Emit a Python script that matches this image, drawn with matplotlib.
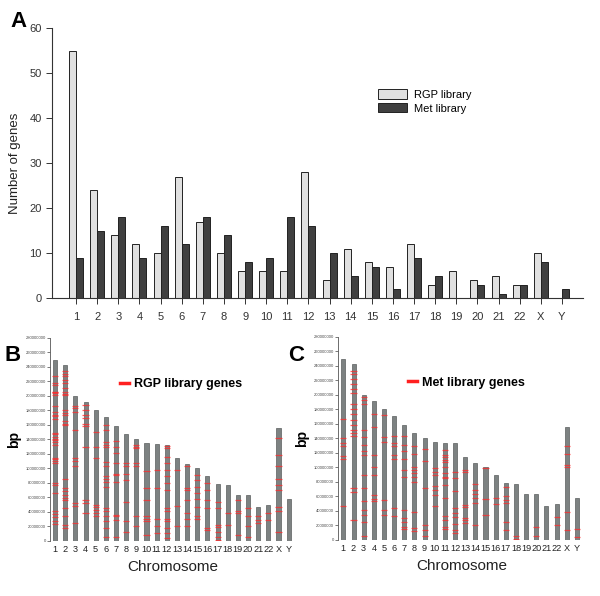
import numpy as np
import matplotlib
matplotlib.use('Agg')
import matplotlib.pyplot as plt
from matplotlib.lines import Line2D

plt.rcParams['font.family'] = ['Liberation Sans', 'DejaVu Sans']

# panel A data
chroms = ['1', '2', '3', '4', '5', '6', '7', '8', '9', '10', '11', '12',
          '13', '14', '15', '16', '17', '18', '19', '20', '21', '22', 'X', 'Y']
rgp_counts = [55, 24, 14, 12, 10, 27, 17, 10, 6, 6, 6, 28,
              4, 11, 8, 7, 12, 3, 6, 4, 5, 3, 10, 0]
met_counts = [9, 15, 18, 9, 16, 12, 18, 14, 8, 9, 18, 16,
              10, 5, 7, 2, 9, 5, 0, 3, 1, 3, 8, 2]

# chromosome lengths (Mb), as drawn
chrom_len = [249, 243, 200, 192, 181, 171, 159, 147, 141, 135, 134, 133,
             115, 106, 101, 89, 79, 77, 64, 63, 47, 50, 156, 58]

# gene positions (Mb) per chromosome, panel B
rgp_pos = [
    [228, 218, 215, 206, 205, 204, 201, 186, 178, 174, 172, 168, 149, 148, 144,
     141, 139, 136, 132, 115, 113, 111, 108, 80, 77, 66, 41, 37, 33, 28, 24],
    [234, 231, 227, 222, 218, 211, 205, 203, 201, 181, 177, 174, 165, 162, 160,
     86, 73, 69, 63, 59, 57, 46, 34, 22, 18],
    [186, 183, 178, 153, 114, 110, 103, 53, 48, 25],
    [188, 181, 174, 169, 162, 158, 130, 57, 53, 38],
    [151, 130, 114, 50, 47, 43, 38, 34],
    [160, 153, 137, 132, 130, 109, 103, 89, 86, 82, 75, 45, 41, 34, 27, 18, 6],
    [138, 130, 121, 107, 93, 91, 82, 36, 34, 29, 6],
    [107, 103, 93, 84, 54, 27, 13],
    [132, 130, 128, 107, 103, 34, 20],
    [96, 73, 57, 34, 30, 27, 8],
    [98, 73, 31, 20, 11],
    [131, 128, 116, 107, 98, 89, 80, 70, 45, 41, 31, 27, 18, 11, 4],
    [98, 48, 21],
    [103, 73, 70, 57, 38, 30, 21],
    [91, 84, 75, 66, 58, 47, 35, 30],
    [80, 70, 57, 45, 18, 15],
    [54, 45, 22, 19, 13, 6, 1],
    [38, 22],
    [57, 41, 38, 8],
    [46, 34, 21, 6],
    [34, 29, 25],
    [38, 29],
    [142, 119, 103, 86, 77, 71, 47, 42, 13],
    [],
]

# gene positions (Mb) per chromosome, panel C
met_pos = [
    [166, 141, 133, 129, 116, 112, 47],
    [233, 228, 222, 215, 208, 202, 187, 180, 174, 165, 158, 152, 147, 143, 72, 66, 28],
    [197, 193, 187, 151, 142, 131, 122, 117, 90, 71, 54, 41, 34, 25, 5],
    [174, 156, 117, 101, 90, 62, 57, 54],
    [172, 142, 135, 55, 41, 35],
    [143, 134, 129, 117, 112, 44, 33],
    [143, 131, 122, 112, 96, 87, 41, 30, 25, 18, 15],
    [129, 118, 101, 96, 92, 87, 80, 38, 16, 12],
    [125, 109, 71, 21, 14, 6],
    [99, 94, 90, 74, 69, 62, 47],
    [124, 117, 115, 110, 108, 101, 92, 87, 85, 76, 58, 33, 27, 18, 15],
    [93, 86, 68, 44, 37, 31, 22, 14, 9],
    [97, 94, 48, 46, 30, 28, 24],
    [77, 69, 63, 58, 51, 21],
    [99, 56, 35],
    [58, 49],
    [73, 60, 55, 51, 25, 14],
    [5, 1],
    [],
    [18, 5],
    [],
    [31, 21],
    [130, 119, 103, 101, 38, 14],
    [15, 4],
]

fig = plt.figure(figsize=(6, 5.96), dpi=100)

# ---- panel A ----
axA = fig.add_axes([0.0867, 0.5, 0.885, 0.453])
x = np.arange(len(chroms))
w = 0.33
axA.bar(x - w / 2, rgp_counts, w, color='#e0e0e0', edgecolor='#222222', linewidth=0.7,
        label='RGP library')
axA.bar(x + w / 2, met_counts, w, color='#404040', edgecolor='#222222', linewidth=0.7,
        label='Met library')
axA.set_xlim(-1.14, 24.0)
axA.set_ylim(0, 60)
axA.set_yticks(range(0, 61, 10))
axA.set_xticks(x)
axA.set_xticklabels(chroms)
axA.tick_params(axis='both', labelsize=8, length=4, width=0.7, colors='#333333')
axA.tick_params(axis='x', pad=6)
axA.set_ylabel('Number of genes', fontsize=9.5, color='#222222', labelpad=6)
for s in ['top', 'right']:
    axA.spines[s].set_visible(False)
for s in ['left', 'bottom']:
    axA.spines[s].set_linewidth(0.8)
    axA.spines[s].set_color('#333333')
axA.legend(loc='upper left', bbox_to_anchor=(0.595, 0.81), frameon=False, fontsize=8,
           handlelength=2.6, handleheight=0.9, labelspacing=0.3, handletextpad=0.6)
fig.text(0.017, 0.955, 'A', fontsize=16, fontweight='bold')


def ideogram(ax, positions, label, xl):
    xi = np.arange(len(chroms))
    ax.bar(xi, np.array(chrom_len) * 1e6, 0.4, color='#7d8282', edgecolor='#5a5e5e',
           linewidth=0.5)
    for i, pos in enumerate(positions):
        if pos:
            ax.hlines(np.array(pos) * 1e6, i - 0.3, i + 0.3, colors='#ff2a2a',
                      linewidth=0.9, alpha=0.75)
    ax.set_xlim(*xl)
    ax.set_ylim(0, 280e6)
    yt = np.arange(0, 280e6 + 1, 20e6)
    ax.set_yticks(yt)
    ax.set_yticklabels([str(int(v)) for v in yt])
    ax.tick_params(axis='y', labelsize=3, length=2, width=0.5, pad=1, colors='#444444')
    ax.set_xticks(xi)
    ax.set_xticklabels(chroms)
    ax.tick_params(axis='x', length=0, labelsize=6.6, pad=3, colors='#222222')
    for s in ['top', 'right', 'bottom']:
        ax.spines[s].set_visible(False)
    ax.spines['left'].set_linewidth(0.6)
    ax.spines['left'].set_color('#555555')
    ax.set_xlabel('Chromosome', fontsize=11, color='#222222', labelpad=4)
    ax.set_ylabel('bp', fontsize=10, fontweight='bold', labelpad=3)
    h = Line2D([], [], color='#ff2020', linewidth=2.5)
    ax.legend([h], [label], loc='center left', bbox_to_anchor=(0.24, 0.773),
              frameon=False, prop={'size': 9, 'weight': 'bold'},
              handlelength=0.7, handletextpad=0.4)


axB = fig.add_axes([0.0833, 0.0923, 0.408, 0.3406])
ideogram(axB, rgp_pos, 'RGP library genes', (-0.5, 23.6))
fig.text(0.008, 0.395, 'B', fontsize=16, fontweight='bold')

axC = fig.add_axes([0.563, 0.094, 0.412, 0.341])
ideogram(axC, met_pos, 'Met library genes', (-0.55, 23.8))
fig.text(0.48, 0.395, 'C', fontsize=16, fontweight='bold')

fig.savefig('out.png', dpi=100)
